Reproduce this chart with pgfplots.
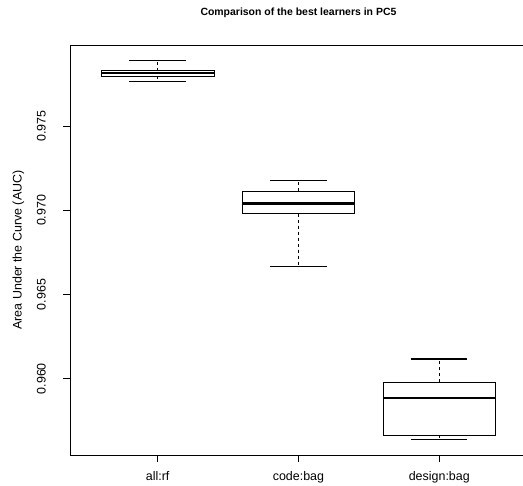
\documentclass[border=0pt]{standalone}
\usepackage{pgfplots}
\pgfplotsset{compat=1.18}
\usepackage{fontspec}
\setmainfont{Liberation Sans}
\begin{document}
\begin{tikzpicture}
\useasboundingbox (-70.3bp,-31bp) rectangle (452.7bp,455bp);
\begin{axis}[
  scale only axis,
  width=456.3bp, height=410bp,
  xmin=0.38, xmax=3.62,
  ymin=0.95547, ymax=0.97982,
  axis lines=left,
  axis line style={line width=0.8bp, -},
  tick style={line width=0.8bp, black},
  tick align=outside,
  major tick length=7bp,
  xtick pos=bottom, ytick pos=left,
  xtick={1,2,3},
  xticklabels={all:rf, code:bag, design:bag},
  ytick={0.960,0.965,0.970,0.975},
  scaled y ticks=false,
  yticklabel style={/pgf/number format/fixed, /pgf/number format/precision=3, /pgf/number format/fixed zerofill, /pgf/number format/assume math mode=true, xshift=-14bp, rotate=90, anchor=south, font=\fontsize{12.5}{15}\selectfont},
  xticklabel style={font=\fontsize{12.5}{15}\selectfont, anchor=north, yshift=-6bp},
  ylabel={Area Under the Curve (AUC)},
  every axis y label/.style={at={(rel axis cs:0,0.5)}, xshift=-52bp, rotate=90, anchor=center, font=\fontsize{12.5}{15}\selectfont},
  title={Comparison of the best learners in PC5},
  every axis title/.style={at={(rel axis cs:0.5,1)}, yshift=32bp, anchor=center, font=\bfseries\fontsize{10.5}{12}\selectfont},
  boxw/.style={black, line width=0.8bp, mark=none},
  whisk/.style={black, line width=0.8bp, dash pattern=on 3bp off 3bp, mark=none},
  cap/.style={black, line width=1.1bp, mark=none},
  med/.style={black, line width=2.4bp, mark=none},
  clip=false,
]
\draw[line width=0.8bp] (rel axis cs:0,1) -- (rel axis cs:1,1);
% all:rf
\addplot[boxw, fill=white] coordinates {(0.6,0.97796) (1.4,0.97796) (1.4,0.97829) (0.6,0.97829) (0.6,0.97796)};
\addplot[med] coordinates {(0.6,0.97814) (1.4,0.97814)};
\addplot[whisk] coordinates {(1,0.97829) (1,0.978915)};
\addplot[whisk] coordinates {(1,0.97796) (1,0.97765)};
\addplot[cap] coordinates {(0.8,0.978915) (1.2,0.978915)};
\addplot[cap] coordinates {(0.8,0.97765) (1.2,0.97765)};
% code:bag
\addplot[boxw, fill=white] coordinates {(1.6,0.96980) (2.4,0.96980) (2.4,0.97113) (1.6,0.97113) (1.6,0.96980)};
\addplot[med] coordinates {(1.6,0.97041) (2.4,0.97041)};
\addplot[whisk] coordinates {(2,0.97113) (2,0.97176)};
\addplot[whisk] coordinates {(2,0.96980) (2,0.96664)};
\addplot[cap] coordinates {(1.8,0.97176) (2.2,0.97176)};
\addplot[cap] coordinates {(1.8,0.96664) (2.2,0.96664)};
% design:bag
\addplot[boxw, fill=white] coordinates {(2.6,0.95665) (3.4,0.95665) (3.4,0.95979) (2.6,0.95979) (2.6,0.95665)};
\addplot[med] coordinates {(2.6,0.95887) (3.4,0.95887)};
\addplot[whisk] coordinates {(3,0.95979) (3,0.96117)};
\addplot[whisk] coordinates {(3,0.95665) (3,0.95637)};
\addplot[cap] coordinates {(2.8,0.96117) (3.2,0.96117)};
\addplot[cap] coordinates {(2.8,0.95637) (3.2,0.95637)};
\end{axis}
\end{tikzpicture}
\end{document}
